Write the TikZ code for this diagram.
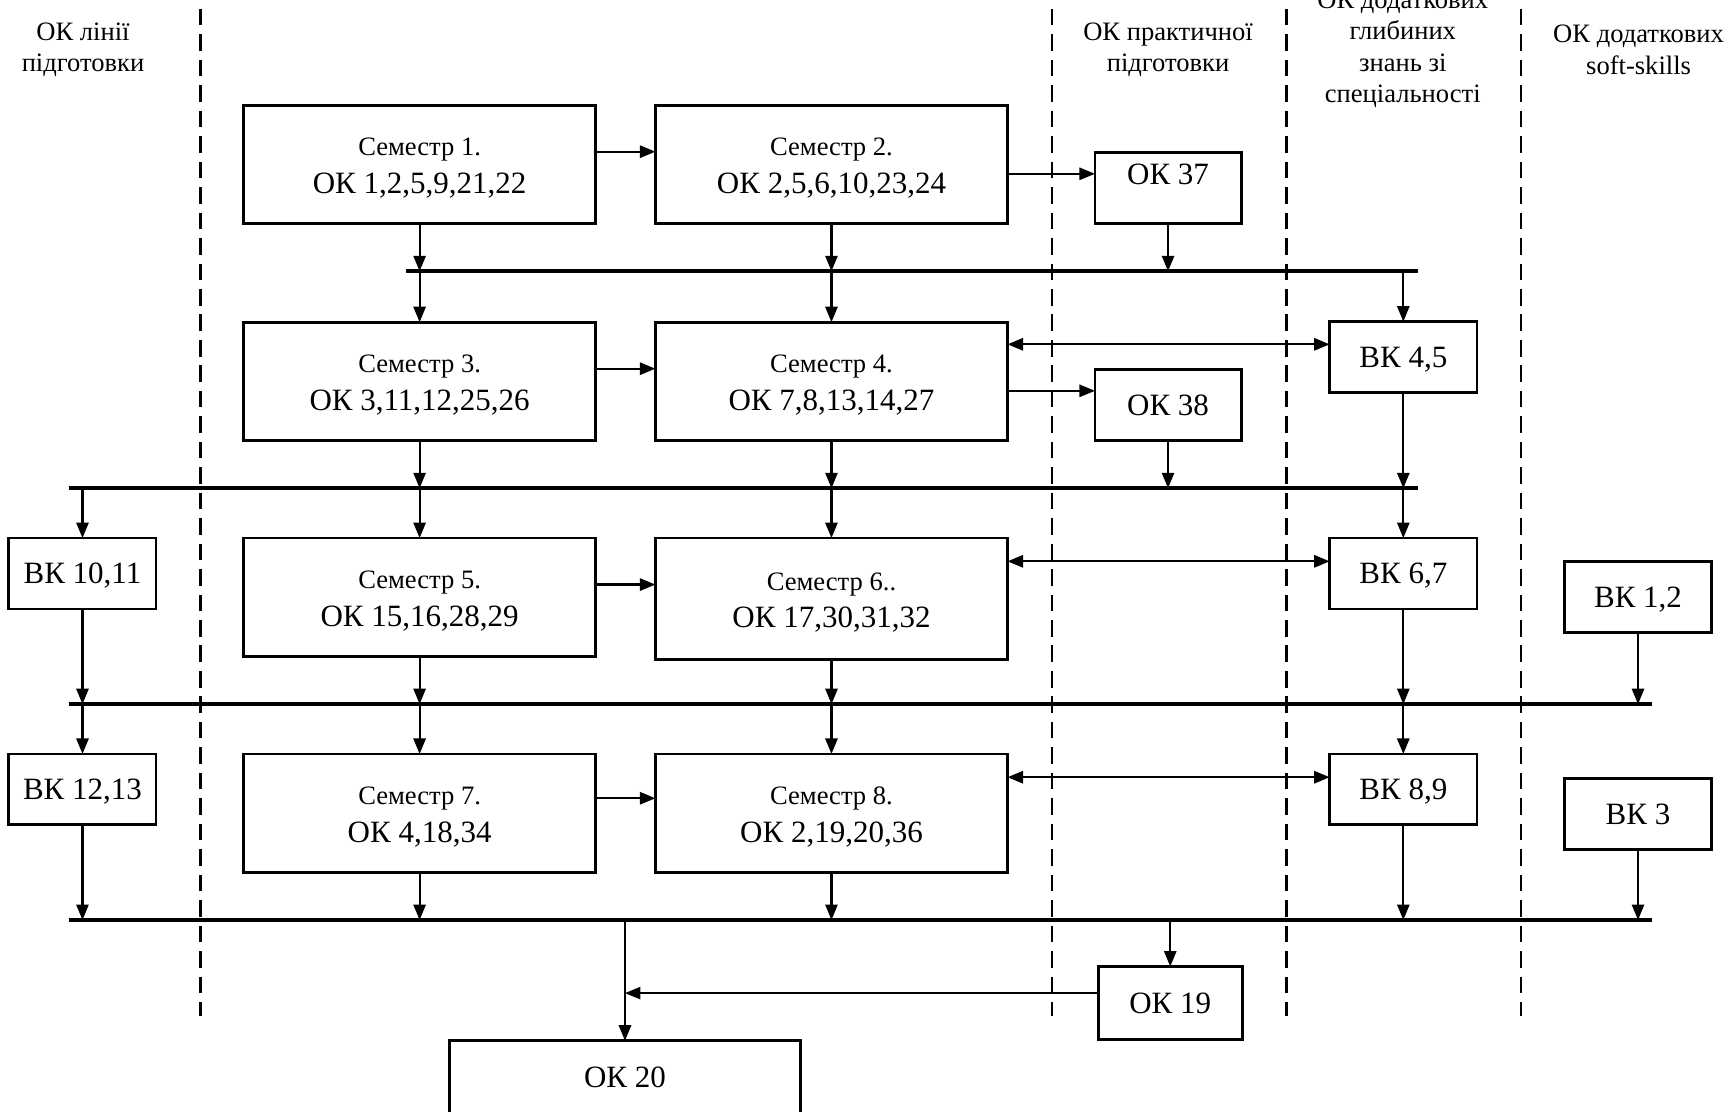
\documentclass[tikz,border=0pt]{standalone}
\usepackage{fontspec}
\setmainfont{Liberation Serif}
\usetikzlibrary{arrows.meta,calc}
\begin{document}
\begin{tikzpicture}[x=1pt,y=-1pt,
  box/.style={draw,line width=2.5pt,minimum width=318pt,minimum height=107pt,inner sep=0pt,outer sep=0pt,align=center,font=\fontsize{28}{34}\selectfont},
  sbox/.style={draw,line width=2.5pt,minimum width=133pt,minimum height=64pt,inner sep=0pt,outer sep=0pt,text depth=0pt,font=\fontsize{28}{34}\selectfont},
  lbl/.style={inner sep=0pt,text depth=0pt,font=\fontsize{28}{34}\selectfont},
  arr/.style={line width=2pt,-{Triangle[length=14pt,width=11pt]}},
  arrb/.style={line width=2pt,{Triangle[length=14pt,width=11pt]}-{Triangle[length=14pt,width=11pt]}},
  bus/.style={line width=3.5pt},
  sep/.style={line width=2pt,dash pattern=on 15pt off 8pt},
  head/.style={align=center,font=\fontsize{24}{28.5}\selectfont,inner sep=0pt}]
\newcommand{\semline}[2]{{\fontsize{24}{34}\selectfont\rule{0pt}{22.5pt}#1}\\#2}
\useasboundingbox (0,0) rectangle (1568,1004);

% column separators
\draw[sep] (181,8) -- (181,918);
\draw[sep] (950,8) -- (950,918);
\draw[sep] (1162,8) -- (1162,918);
\draw[sep] (1374,8) -- (1374,918);

% headers
\node[head] (h1) at (75,45) {ОК лінії\\підготовки};
\node[head] (h2) at (1055,45) {ОК практичної\\підготовки};
\node[head] (h3) at (1267,44.5) {ОК додаткових\\глибиних\\знань зі\\спеціальності};
\node[head] (h4) at (1480,45) {ОК додаткових\\soft-skills};

% boxes
\node[box] (s1) at (379,148.5) {\semline{Семестр 1.}{ОК 1,2,5,9,21,22}};
\node[box] (s2) at (751,148.5) {\semline{Семестр 2.}{ОК 2,5,6,10,23,24}};
\node[box] (s3) at (379,344.5) {\semline{Семестр 3.}{ОК 3,11,12,25,26}};
\node[box] (s4) at (751,344.5) {\semline{Семестр 4.}{ОК 7,8,13,14,27}};
\node[box] (s5) at (379,539.5) {\semline{Семестр 5.}{ОК 15,16,28,29}};
\node[box,minimum height=110pt] (s6) at (751,541) {\semline{Семестр 6..}{ОК 17,30,31,32}};
\node[box] (s7) at (379,734.5) {\semline{Семестр 7.}{ОК 4,18,34}};
\node[box] (s8) at (751,734.5) {\semline{Семестр 8.}{ОК 2,19,20,36}};

\node[sbox,minimum width=132pt] (ok37) at (1055,170) {};
\node[lbl] (ok37t) at ([yshift=12.5pt]ok37.center) {ОК 37};
\node[sbox,minimum width=132pt] (ok38) at (1055,366) {ОК 38};
\node[sbox] (vk45) at (1267.5,322.5) {ВК 4,5};
\node[sbox] (vk67) at (1267.5,518) {ВК 6,7};
\node[sbox] (vk89) at (1267.5,713) {ВК 8,9};
\node[sbox] (vk1011) at (74.5,518) {ВК 10,11};
\node[sbox] (vk1213) at (74.5,713) {ВК 12,13};
\node[sbox] (vk12) at (1479.5,539) {ВК 1,2};
\node[sbox] (vk3) at (1479.5,735) {ВК 3};
\node[sbox,minimum width=130pt,minimum height=66pt] (ok19) at (1057,906) {ОК 19};
\node[sbox,minimum width=317pt,minimum height=66pt] (ok20) at (564.5,973) {ОК 20};

% buses
\coordinate (b1L) at (367,245);  \coordinate (b1R) at (1281,245);
\coordinate (b2L) at (62,441);   \coordinate (b2R) at (1281,441);
\coordinate (b3L) at (62,636);   \coordinate (b3R) at (1492,636);
\coordinate (b4L) at (62,831);   \coordinate (b4R) at (1492,831);
\draw[bus] (b1L) -- (b1R);
\draw[bus] (b2L) -- (b2R);
\draw[bus] (b3L) -- (b3R);
\draw[bus] (b4L) -- (b4R);

% row 1
\draw[arr] ([yshift=11.5pt]s1.east) -- ([yshift=11.5pt]s1.east -| s2.west);
\draw[arr] ([yshift=13pt]ok37.west -| s2.east) -- ([yshift=13pt]ok37.west);
\draw[arr] (s1.south) -- (s1.south |- b1L);
\draw[arr] (s2.south) -- (s2.south |- b1L);
\draw[arr] (ok37.south) -- (ok37.south |- b1L);
\draw[arr] (s3.north |- b1L) -- (s3.north);
\draw[arr] (s4.north |- b1L) -- (s4.north);
\draw[arr] (vk45.north |- b1L) -- (vk45.north);

% row 2
\draw[arr] ([yshift=11.5pt]s3.east) -- ([yshift=11.5pt]s3.east -| s4.west);
\draw[arrb] ([yshift=11.5pt]vk45.west -| s4.east) -- ([yshift=11.5pt]vk45.west);
\draw[arr] ([yshift=13pt]ok38.west -| s4.east) -- ([yshift=13pt]ok38.west);
\draw[arr] (s3.south) -- (s3.south |- b2L);
\draw[arr] (s4.south) -- (s4.south |- b2L);
\draw[arr] (ok38.south) -- (ok38.south |- b2L);
\draw[arr] (vk45.south) -- (vk45.south |- b2L);
\draw[arr] (vk1011.north |- b2L) -- (vk1011.north);
\draw[arr] (s5.north |- b2L) -- (s5.north);
\draw[arr] (s6.north |- b2L) -- (s6.north);
\draw[arr] (vk67.north |- b2L) -- (vk67.north);

% row 3
\draw[arr] ([yshift=11.5pt]s5.east) -- ([yshift=11.5pt]s5.east -| s6.west);
\draw[arrb] ([yshift=11pt]vk67.west -| s6.east) -- ([yshift=11pt]vk67.west);
\draw[arr] (vk1011.south) -- (vk1011.south |- b3L);
\draw[arr] (s5.south) -- (s5.south |- b3L);
\draw[arr] (s6.south) -- (s6.south |- b3L);
\draw[arr] (vk67.south) -- (vk67.south |- b3L);
\draw[arr] (vk12.south) -- (vk12.south |- b3L);
\draw[arr] (vk1213.north |- b3L) -- (vk1213.north);
\draw[arr] (s7.north |- b3L) -- (s7.north);
\draw[arr] (s8.north |- b3L) -- (s8.north);
\draw[arr] (vk89.north |- b3L) -- (vk89.north);

% row 4
\draw[arr] ([yshift=13.5pt]s7.east) -- ([yshift=13.5pt]s7.east -| s8.west);
\draw[arrb] ([yshift=11pt]vk89.west -| s8.east) -- ([yshift=11pt]vk89.west);
\draw[arr] (vk1213.south) -- (vk1213.south |- b4L);
\draw[arr] (s7.south) -- (s7.south |- b4L);
\draw[arr] (s8.south) -- (s8.south |- b4L);
\draw[arr] (vk89.south) -- (vk89.south |- b4L);
\draw[arr] (vk3.south) -- (vk3.south |- b4L);

% final
\draw[arr] (ok19.north |- b4L) -- (ok19.north);
\draw[arr] (ok20.north |- b4L) -- (ok20.north);
\draw[arr] ([yshift=9pt]ok19.west) -- ([yshift=9pt]ok19.west -| ok20.north);
\end{tikzpicture}
\end{document}
